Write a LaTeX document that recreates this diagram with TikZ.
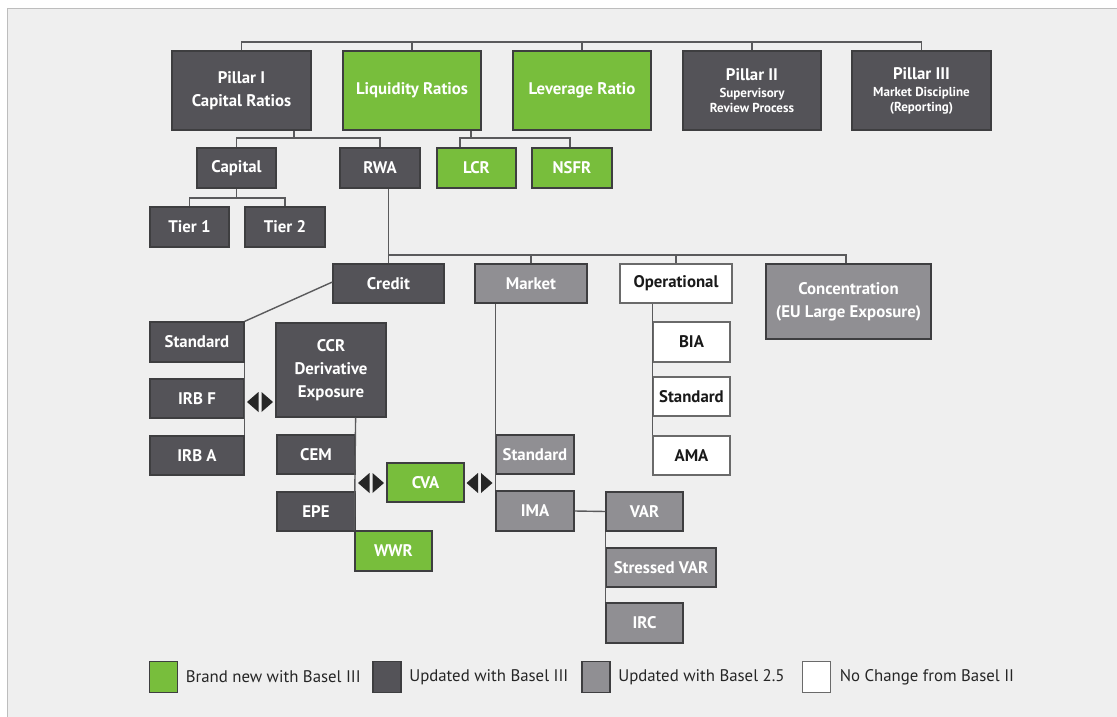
\documentclass[tikz,border=0pt]{standalone}
\usepackage{fontspec}
\setmainfont{PT Sans}
\usepackage{xcolor}
\usetikzlibrary{positioning,calc}
\definecolor{BaselGreen}{HTML}{78BE3C}
\definecolor{BaselDark}{HTML}{545358}
\definecolor{BaselGrey}{HTML}{908F93}
\definecolor{EdgeDark}{HTML}{3E3E40}
\definecolor{EdgeLight}{HTML}{6A6A6A}
\definecolor{LinkGrey}{HTML}{5A5A5C}
\definecolor{Panel}{HTML}{EFEFEF}
\definecolor{FrameGrey}{HTML}{BDBDBD}
\newcommand{\subline}[1]{{\fontsize{13}{13}\selectfont #1}}
\tikzset{
  basebox/.style={line width=1.2pt, align=center, inner sep=0pt, text=white},
  greenbox/.style={basebox, draw=EdgeDark, fill=BaselGreen},
  darkbox/.style={basebox, draw=EdgeDark, fill=BaselDark},
  greybox/.style={basebox, draw=EdgeDark, fill=BaselGrey},
  whitebox/.style={basebox, draw=EdgeLight, fill=white, text=black!90},
  legendbox/.style={line width=1.2pt, minimum width=28pt, minimum height=31pt, inner sep=0pt},
  legendtext/.style={inner sep=0pt, anchor=west, text=black!85, font=\mdseries\fontsize{16.8}{18}\selectfont},
  link/.style={draw=LinkGrey, line width=1.4pt},
  biarrow/.pic={
    \fill[black!85] (-1.5,-10) -- (-1.5,10) -- (-13,0) -- cycle;
    \fill[black!85] (1.5,-10) -- (1.5,10) -- (13,0) -- cycle;
  }
}

\begin{document}
\begin{tikzpicture}[x=1pt, y=-1pt, font=\bfseries\fontsize{16.8}{23}\selectfont]
    \useasboundingbox (0,0) rectangle (1117,717);
    \fill[white] (0,0) rectangle (1117,717);
    \fill[Panel] (7.5,8.5) rectangle (1117,717);
    \draw[FrameGrey, line width=1.5pt] (7.5,717) -- (7.5,8.5) -- (1117,8.5);

    \node[darkbox, minimum width=139pt, minimum height=79pt] (pillarI) at (241.5,90.5) {Pillar I\\Capital Ratios};
    \node[greenbox, minimum width=138pt, minimum height=79pt] (liquidity) at (412,90.5) {Liquidity Ratios};
    \node[greenbox, minimum width=138pt, minimum height=79pt] (leverage) at (582,90.5) {Leverage Ratio};
    \node[darkbox, minimum width=138pt, minimum height=79pt] (pillarII) at (752,90.5) {Pillar II\\[-6pt]\subline{Supervisory}\\[-8pt]\subline{Review Process}};
    \node[darkbox, minimum width=139pt, minimum height=79pt] (pillarIII) at (921.5,90.5) {Pillar III\\[-6pt]\subline{Market Discipline}\\[-8pt]\subline{(Reporting)}};

    \node[darkbox, minimum width=79pt, minimum height=40pt] (capital) at (236.5,168) {Capital};
    \node[darkbox, minimum width=80pt, minimum height=40pt] (rwa) at (380,168) {RWA};
    \node[greenbox, minimum width=79pt, minimum height=40pt] (lcr) at (476.5,168) {LCR};
    \node[greenbox, minimum width=80pt, minimum height=40pt] (nsfr) at (572,168) {NSFR};
    \node[darkbox, minimum width=79pt, minimum height=40pt] (tier1) at (189.5,227) {Tier 1};
    \node[darkbox, minimum width=80pt, minimum height=40pt] (tier2) at (285,227) {Tier 2};

    \node[darkbox, minimum width=111pt, minimum height=39pt] (credit) at (388.5,283.5) {Credit};
    \node[greybox, minimum width=112pt, minimum height=39pt] (market) at (531,283.5) {Market};
    \node[whitebox, minimum width=112pt, minimum height=39pt] (operational) at (676,283.5) {Operational};
    \node[greybox, minimum width=165pt, minimum height=75pt] (concentration) at (848.5,301.5) {Concentration\\(EU Large Exposure)};

    \node[darkbox, minimum width=94pt, minimum height=40pt] (cstd) at (197,342) {Standard};
    \node[darkbox, minimum width=94pt, minimum height=39pt] (irbf) at (197,398.5) {IRB F};
    \node[darkbox, minimum width=94pt, minimum height=39pt] (irba) at (197,455.5) {IRB A};
    \node[darkbox, minimum width=110pt, minimum height=94pt] (ccr) at (331,370) {CCR\\Derivative\\Exposure};
    \node[darkbox, minimum width=78pt, minimum height=39pt] (cem) at (316,454.5) {CEM};
    \node[darkbox, minimum width=78pt, minimum height=39pt] (epe) at (316,511.5) {EPE};
    \node[greenbox, minimum width=77pt, minimum height=40pt] (wwr) at (393.5,551) {WWR};
    \node[greenbox, minimum width=77pt, minimum height=39pt] (cva) at (425.5,482.5) {CVA};

    \node[greybox, minimum width=78pt, minimum height=39pt] (mstd) at (535,454.5) {Standard};
    \node[greybox, minimum width=78pt, minimum height=40pt] (ima) at (535,511) {IMA};
    \node[greybox, minimum width=77pt, minimum height=39pt] (var) at (644.5,511.5) {VAR};
    \node[greybox, minimum width=110pt, minimum height=39pt] (svar) at (661,567.5) {Stressed VAR};
    \node[greybox, minimum width=77pt, minimum height=40pt] (irc) at (644.5,623) {IRC};

    \node[whitebox, minimum width=77pt, minimum height=40pt] (bia) at (691.5,342) {BIA};
    \node[whitebox, minimum width=77pt, minimum height=39pt] (ostd) at (691.5,396.5) {Standard};
    \node[whitebox, minimum width=77pt, minimum height=39pt] (ama) at (691.5,455.5) {AMA};

    \coordinate (topbar) at (0,42);
    \coordinate (pillarbar) at (0,138);
    \coordinate (capbar) at (0,198);
    \coordinate (riskbar) at (0,255);

    \draw[link] (pillarI.north) |- (pillarIII.north |- topbar) -- (pillarIII.north);
    \foreach \n in {liquidity,leverage,pillarII}
        \draw[link] (\n.north) -- (\n.north |- topbar);
    \draw[link] ([xshift=52.5pt]pillarI.south) -- ([xshift=52.5pt]pillarI.south |- pillarbar);
    \draw[link] (capital.north) |- (rwa.north |- pillarbar) -- (rwa.north);
    \draw[link] ([xshift=59pt]liquidity.south) -- ([xshift=59pt]liquidity.south |- pillarbar);
    \draw[link] ([xshift=-16.5pt]lcr.north) |- ([xshift=-2pt]nsfr.north |- pillarbar) -- ([xshift=-2pt]nsfr.north);
    \draw[link] (capital.south) -- (capital.south |- capbar);
    \draw[link] (tier1.north) |- (tier2.north |- capbar) -- (tier2.north);
    \draw[link] (credit.north |- rwa.south) -- (credit.north);
    \draw[link] (credit.north |- riskbar) -- ([xshift=-2.5pt]concentration.north |- riskbar) -- ([xshift=-2.5pt]concentration.north);
    \foreach \n in {market,operational}
        \draw[link] (\n.north) -- (\n.north |- riskbar);

    \draw[link] ([yshift=1.5pt]credit.west) -- (cstd.north east);
    \draw[link] (cstd.south east) -- (irba.north east);
    \draw[link] (ccr.south -| cem.east) -- (wwr.north west);
    \draw[link] (market.south -| mstd.west) -- (ima.north west);
    \draw[link] (ima.east) -- (var.west);
    \draw[link] (var.south west) -- (irc.north west);
    \draw[link] (operational.south -| bia.west) -- (ama.north west);

    \pic at (260,402) {biarrow};
    \pic at (371,483) {biarrow};
    \pic at (479.5,483) {biarrow};

    \node[legendbox, draw=EdgeDark, fill=BaselGreen] (keygreen) at (163.5,677) {};
    \node[legendtext, right=7.5pt of keygreen] (keygreentext) {Brand new with Basel III};
    \node[legendbox, draw=EdgeDark, fill=BaselDark] (keydark) at (387,677) {};
    \node[legendtext, right=7.5pt of keydark] (keydarktext) {Updated with Basel III};
    \node[legendbox, draw=EdgeDark, fill=BaselGrey] (keygrey) at (596,677) {};
    \node[legendtext, right=7.5pt of keygrey] (keygreytext) {Updated with Basel 2.5};
    \node[legendbox, draw=EdgeLight, fill=white] (keywhite) at (816.5,677) {};
    \node[legendtext, right=8.5pt of keywhite] (keywhitetext) {No Change from Basel II};
\end{tikzpicture}
\end{document}
